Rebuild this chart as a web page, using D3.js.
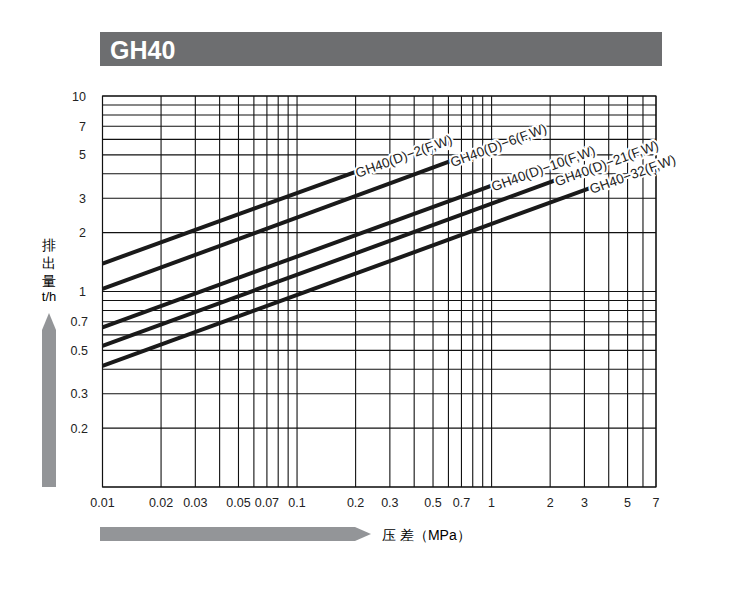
<!DOCTYPE html>
<html><head><meta charset="utf-8">
<script src="https://cdn.jsdelivr.net/npm/d3@7"></script>
<style>body{margin:0;background:#fff}text{font-family:"Liberation Sans",Arial,sans-serif}</style>
</head><body>
<svg id="chart" width="738" height="603"></svg>
<script>
const xTicks = [0.01,0.02,0.03,0.05,0.07,0.1,0.2,0.3,0.5,0.7,1,2,3,5,7];
const yTicks = [0.2,0.3,0.5,0.7,1,2,3,5,7,10];
const models = ["GH40(D)−2(F,W)","GH40(D)−6(F,W)","GH40(D)−10(F,W)","GH40(D)−21(F,W)","GH40−32(F,W)"];
const startQ = [1.39,1.03,0.655,0.527,0.416];
const endP = [0.2,0.614,1.0,2.12,3.2];
const endQ = [4.09,4.64,3.48,3.7,3.38];

const svg = d3.select("#chart");
const x = d3.scaleLog().domain([0.01,7]).range([102.5,656]);
const y = d3.scaleLog().domain([0.1,10]).range([487,96]);

// header
svg.append("rect").attr("x",100).attr("y",32).attr("width",562).attr("height",34).attr("fill","#6d6e70");
svg.append("text").attr("x",110).attr("y",59).attr("fill","#fff").attr("font-size",25).attr("font-weight","bold").text("GH40");

// grid
const xg = [], yg = [];
for (let d of [0.01,0.1,1]) for (let k=1;k<=9;k++){ const v=d*k; if (v<=7.001) xg.push(v); }
for (let d of [0.1,1]) for (let k=1;k<=9;k++) yg.push(d*k);
yg.push(10);
const g = svg.append("g").attr("stroke","#111").attr("stroke-width",1.1);
g.selectAll(".vx").data(xg).join("line").attr("x1",d=>x(d)).attr("x2",d=>x(d)).attr("y1",y(10)).attr("y2",y(0.1));
g.selectAll(".hy").data(yg).join("line").attr("x1",x(0.01)).attr("x2",x(7)).attr("y1",d=>y(d)).attr("y2",d=>y(d));
g.append("rect").attr("x",x(0.01)).attr("y",y(10)).attr("width",x(7)-x(0.01)).attr("height",y(0.1)-y(10)).attr("fill","none");

// tick labels
svg.selectAll(".xt").data(xTicks).join("text").attr("x",d=>x(d)).attr("y",507).attr("text-anchor","middle").attr("font-size",12.5).attr("fill","#222").text(d=>d);
svg.selectAll(".yt").data(yTicks).join("text").attr("x",d=>d<1?88:86).attr("y",d=>y(d)+4.5).attr("text-anchor","end").attr("font-size",12.5).attr("fill","#222").text(d=>d);

// lines + labels
models.forEach((m,i)=>{
  const x1=x(0.01), y1=y(startQ[i]), x2=x(endP[i]), y2=y(endQ[i]);
  svg.append("line").attr("x1",x1).attr("y1",y1).attr("x2",x2).attr("y2",y2).attr("stroke","#1a1a1a").attr("stroke-width",4);
  const ang = Math.atan2(y2-y1,x2-x1)*180/Math.PI;
  const t = svg.append("text").attr("transform",`translate(${x2+2},${y2+6}) rotate(${ang})`).attr("font-size",13.5).attr("fill","#222").text(m);
  t.attr("stroke","#fff").attr("stroke-width",4).attr("paint-order","stroke");
});

// y axis title and arrow
["排","出","量"].forEach((c,i)=>svg.append("text").attr("x",49).attr("y",250+i*18).attr("text-anchor","middle").attr("font-size",14).attr("font-family","Noto Sans CJK SC").text(c));
svg.append("text").attr("x",49).attr("y",301).attr("text-anchor","middle").attr("font-size",13).text("t/h");
svg.append("path").attr("d","M42,487 L42,330 L49,313 L56,330 L56,487 Z").attr("fill","#939598");

// x axis title and arrow
svg.append("path").attr("d","M100,527 L355,527 L371,534 L355,541 L100,541 Z").attr("fill","#939598");
svg.append("text").attr("x",382).attr("y",540).attr("font-size",14).attr("font-family","Noto Sans CJK SC").text("压  差（MPa）");
</script>
</body></html>
